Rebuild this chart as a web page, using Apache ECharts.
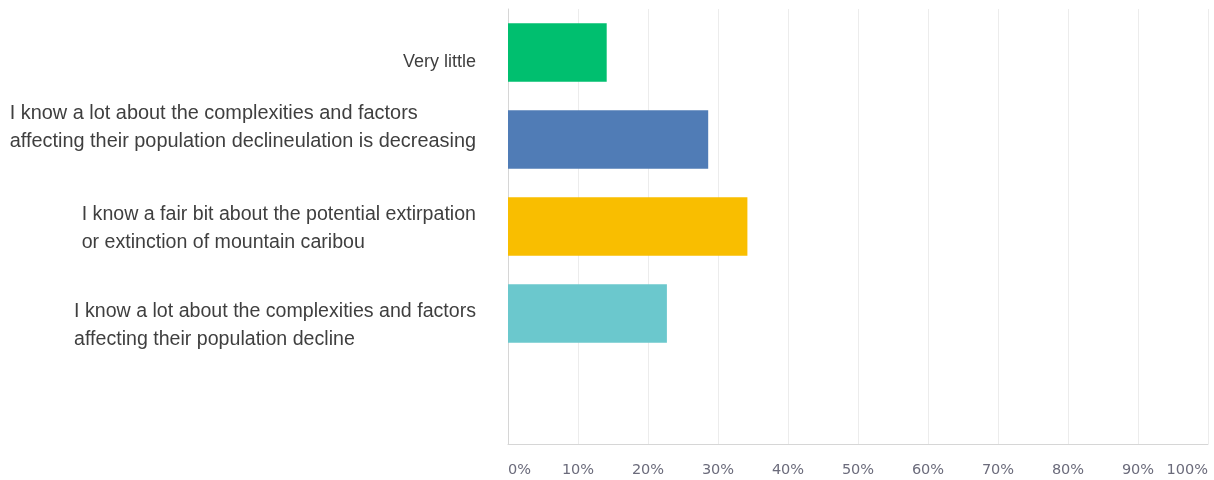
<!DOCTYPE html>
<html>
<head>
<meta charset="utf-8">
<script src="https://cdn.jsdelivr.net/npm/echarts@6/dist/echarts.min.js"></script>
<style>
html,body{margin:0;padding:0;background:#fff;}
#chart{width:1214px;height:480px;}
</style>
</head>
<body>
<div id="chart"></div>
<script>
const categories = [
  "Very little",
  "I know a lot about the complexities and factors\naffecting their population declineulation is decreasing",
  "I know a fair bit about the potential extirpation\nor extinction of mountain caribou",
  "I know a lot about the complexities and factors\naffecting their population decline",
  ""
];
const values = [14.1, 28.6, 34.2, 22.7, null];
const barColors = ["#00bf6f", "#507cb6", "#f9be00", "#6bc8cd", "#cccccc"];
const tickValues = [0, 10, 20, 30, 40, 50, 60, 70, 80, 90, 100];
const labelShift = [19, 0, 5, 24, 0];
const labelShiftBottom = [0, 24, 0, 0, 0];
const labelStyleNames = ['s0', 's1', 's2', 's3', 's0'];

const chart = echarts.init(document.getElementById('chart'), null, {renderer: 'canvas'});
const yData = categories.map((c, i) => ({
  value: c,
  textStyle: { padding: [labelShift[i], 0, labelShiftBottom[i], 0] }
}));
const baseRich = { align: 'left', color: '#3f3f3f', fontFamily: 'Liberation Sans', lineHeight: 28 };
chart.setOption({
  animation: false,
  grid: { left: 508, right: 6, top: 9, bottom: 36, containLabel: false },
  xAxis: {
    type: 'value', min: 0, max: 100, interval: 10,
    axisLine: { show: true, lineStyle: { color: '#d6d6d6', width: 1 } },
    axisTick: { show: false },
    splitLine: { show: true, lineStyle: { color: '#ececec', width: 1 } },
    axisLabel: {
      formatter: v => tickValues.includes(v) ? v + '%' : '',
      color: '#6b6b7b', fontFamily: 'DejaVu Sans', fontSize: 14.5, margin: 19,
      alignMinLabel: 'left', alignMaxLabel: 'right'
    }
  },
  yAxis: {
    type: 'category', inverse: true, data: yData,
    axisLine: { show: true, lineStyle: { color: '#d6d6d6', width: 1 } },
    axisTick: { show: false },
    splitLine: { show: false },
    axisLabel: {
      color: '#3f3f3f', fontFamily: 'Liberation Sans', fontSize: 18, lineHeight: 28,
      margin: 32, align: 'right',
      formatter: (v, i) => v.split('\n').map(l => '{' + labelStyleNames[i] + '|' + l + '}').join('\n'),
      rich: {
        s0: Object.assign({}, baseRich, { fontSize: 18 }),
        s1: Object.assign({}, baseRich, { fontSize: 19.9 }),
        s2: Object.assign({}, baseRich, { fontSize: 19.6 }),
        s3: Object.assign({}, baseRich, { fontSize: 19.6 })
      }
    }
  },
  series: [{
    type: 'bar', data: values.map((v, i) => ({ value: v, itemStyle: { color: barColors[i] } })),
    barWidth: '67%'
  }]
});
</script>
</body>
</html>
